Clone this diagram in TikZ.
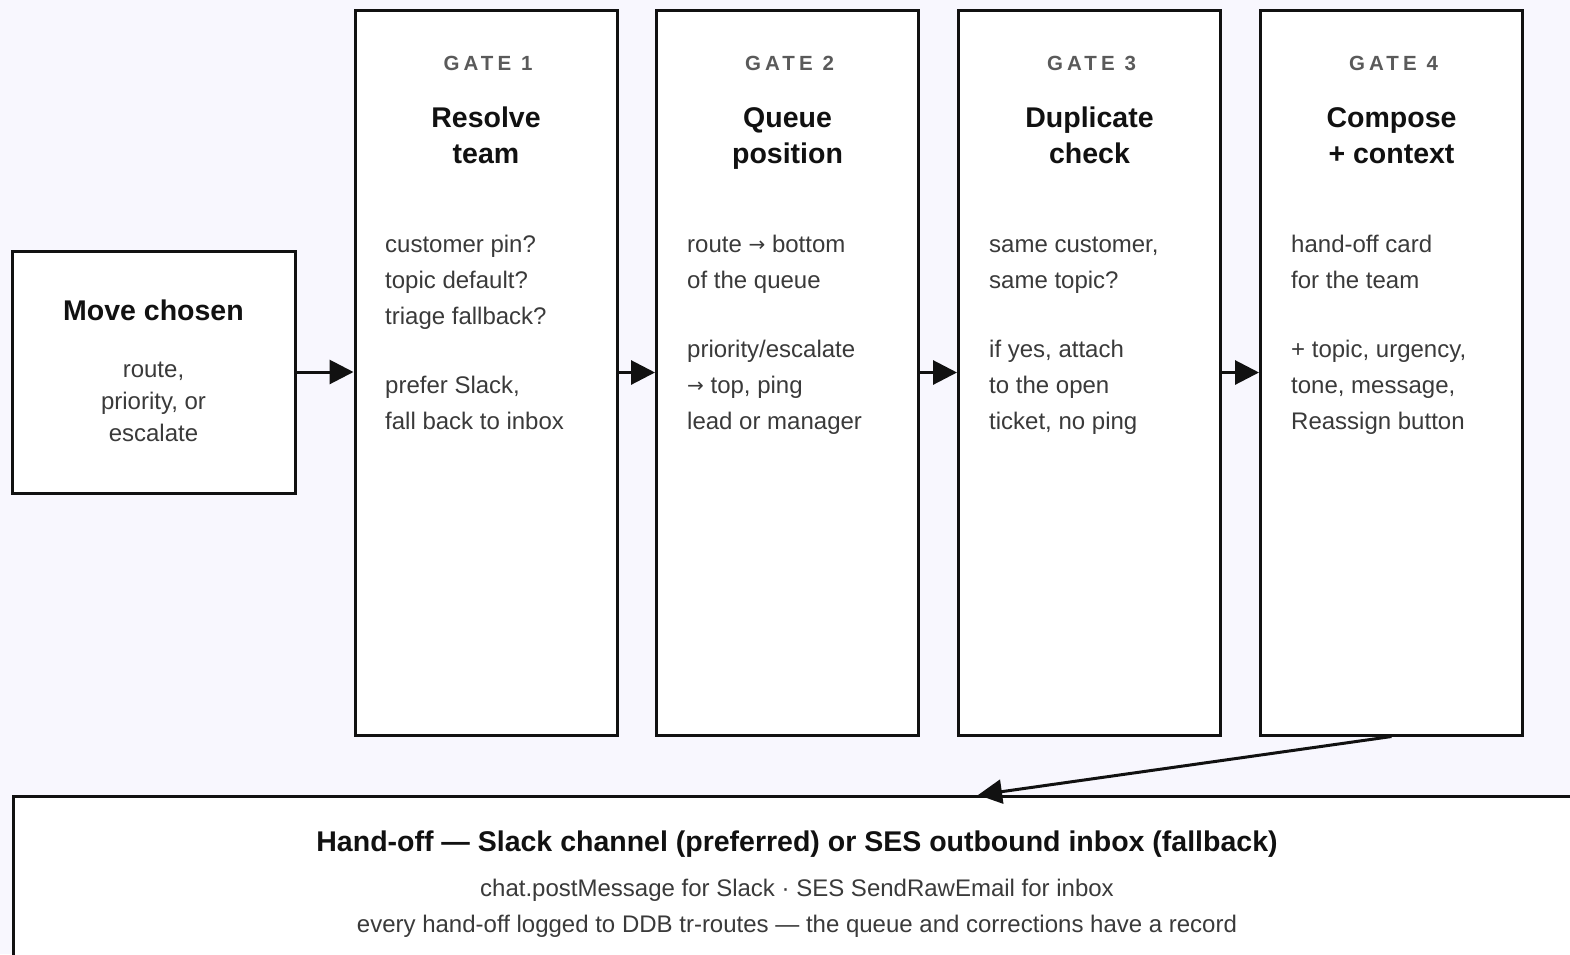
\documentclass[tikz,border=0pt]{standalone}
\usepackage{fontspec}
\setmainfont{Liberation Sans}
\newfontfamily\spacedfont{Liberation Sans}[LetterSpace=20]
\newfontfamily\arrowfont{DejaVu Sans}
\usetikzlibrary{arrows.meta}

\definecolor{canvas}{HTML}{F8F7FE}
\definecolor{ink}{HTML}{111111}
\definecolor{bodyink}{HTML}{3A3A3A}
\definecolor{labelink}{HTML}{5A5A5A}

% small right arrow used inside the gate notes
\newcommand{\toarrow}{\raisebox{0.8pt}{\arrowfont\fontsize{20}{22}\selectfont →}}

\tikzset{
  box/.style={draw=ink, line width=3pt, fill=white, inner sep=0pt},
  gatebox/.style={box, minimum width=262pt, minimum height=725pt},
  flow/.style={draw=ink, line width=3pt, -{Triangle[length=24pt,width=24pt]}},
  gatelabel/.style={anchor=base, inner sep=0pt, text=labelink,
    font=\spacedfont\bfseries\fontsize{20.5}{24}\selectfont},
  heading/.style={anchor=base, inner sep=0pt, text=ink,
    font=\bfseries\fontsize{28.5}{33}\selectfont},
  bodyline/.style={anchor=base west, inner sep=0pt, text=bodyink,
    font=\fontsize{24}{28}\selectfont},
  centerline/.style={bodyline, anchor=base},
}

\begin{document}
\begin{tikzpicture}[x=1pt,y=-1pt]
  % canvas
  \fill[canvas] (0,0) rectangle (1570,954);
  \clip (0,0) rectangle (1570,954);

  % boxes
  \node[box, minimum width=283pt, minimum height=242pt] (move) at (153.5,372) {};
  \node[gatebox] (g1) at (486,372.5) {};
  \node[gatebox] (g2) at (787.5,372.5) {};
  \node[gatebox] (g3) at (1089.5,372.5) {};
  \node[gatebox] (g4) at (1391.5,372.5) {};
  \node[box, minimum width=1570pt, minimum height=200pt, anchor=north west] (hand) at (12,795) {};

  % connectors
  \draw[flow] (move.east) -- (move.east -| g1.west);
  \draw[flow] (g1.east) -- (g2.west);
  \draw[flow] (g2.east) -- (g3.west);
  \draw[flow] (g3.east) -- (g4.west);
  \coordinate (handin) at (978,795);
  \draw[flow] (g4.south) -- (handin);

  % move chosen
  \node[heading] (movet) at (153.5,320) {Move chosen};
  \node[centerline] (moveb1) at (153.5,377) {route,};
  \node[centerline] (moveb2) at (153.5,409) {priority, or};
  \node[centerline] (moveb3) at (153.5,441) {escalate};

  % gate 1
  \node[gatelabel] (g1l) at (488,70) {GATE 1};
  \node[heading] (g1ta) at (486,127) {Resolve};
  \node[heading] (g1tb) at (486,163) {team};
  \node[bodyline] (g1b1) at (385,252) {customer pin?};
  \node[bodyline] (g1b2) at (385,288) {topic default?};
  \node[bodyline] (g1b3) at (385,324) {triage fallback?};
  \node[bodyline] (g1b4) at (385,393) {prefer Slack,};
  \node[bodyline] (g1b5) at (385,429) {fall back to inbox};

  % gate 2
  \node[gatelabel] (g2l) at (789.5,70) {GATE 2};
  \node[heading] (g2ta) at (787.5,127) {Queue};
  \node[heading] (g2tb) at (787.5,163) {position};
  \node[bodyline] (g2b1) at (687,252) {route \toarrow{} bottom};
  \node[bodyline] (g2b2) at (687,288) {of the queue};
  \node[bodyline] (g2b3) at (687,357) {priority/escalate};
  \node[bodyline] (g2b4) at (687,393) {\toarrow{} top, ping};
  \node[bodyline] (g2b5) at (687,429) {lead or manager};

  % gate 3
  \node[gatelabel] (g3l) at (1091.5,70) {GATE 3};
  \node[heading] (g3ta) at (1089.5,127) {Duplicate};
  \node[heading] (g3tb) at (1089.5,163) {check};
  \node[bodyline] (g3b1) at (989,252) {same customer,};
  \node[bodyline] (g3b2) at (989,288) {same topic?};
  \node[bodyline] (g3b3) at (989,357) {if yes, attach};
  \node[bodyline] (g3b4) at (989,393) {to the open};
  \node[bodyline] (g3b5) at (989,429) {ticket, no ping};

  % gate 4
  \node[gatelabel] (g4l) at (1393.5,70) {GATE 4};
  \node[heading] (g4ta) at (1391.5,127) {Compose};
  \node[heading] (g4tb) at (1391.5,163) {+ context};
  \node[bodyline] (g4b1) at (1291,252) {hand-off card};
  \node[bodyline] (g4b2) at (1291,288) {for the team};
  \node[bodyline] (g4b3) at (1291,357) {+ topic, urgency,};
  \node[bodyline] (g4b4) at (1291,393) {tone, message,};
  \node[bodyline] (g4b5) at (1291,429) {Reassign button};

  % hand-off
  \node[heading] (handt) at (797,851) {Hand-off — Slack channel (preferred) or SES outbound inbox (fallback)};
  \node[centerline] (hands1) at (797,896) {chat.postMessage for Slack · SES SendRawEmail for inbox};
  \node[centerline] (hands2) at (797,932) {every hand-off logged to DDB tr-routes — the queue and corrections have a record};
\end{tikzpicture}
\end{document}
